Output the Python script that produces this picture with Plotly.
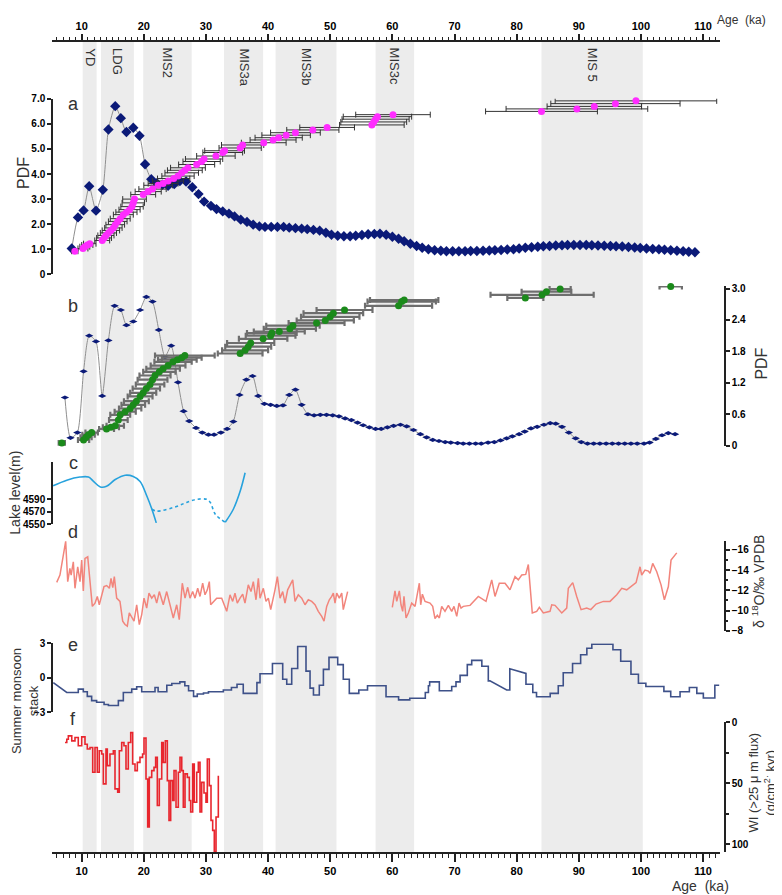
import plotly.graph_objects as go

# ---- shaded climate intervals (ka) ----
BAND_START = [10.16, 13.1, 19.9, 32.9, 41.2, 57.3, 84.0]
BAND_END = [12.4, 18.4, 27.7, 39.2, 51.0, 63.5, 100.3]
BAND_LABEL = ["YD", "LDG", "MIS2", "MIS3a", "MIS3b", "MIS3c", "MIS 5"]

# ---- panel a: PDF (blue) and dated samples (magenta) ----
PDF_A_AGE = [8.4, 9.4, 10.3, 11.2, 12.3, 13.4, 14.3, 15.4, 16.3, 17.2,
             18.3, 19.3, 20.2, 21.2, 22.1, 23.0, 23.9, 24.9, 25.8, 26.8,
             27.8, 28.8, 29.7, 30.8, 31.7, 32.7, 33.7, 34.6, 35.6, 36.6,
             37.6, 38.6, 39.5, 40.5, 41.5, 42.5, 43.4, 44.4, 45.4, 46.3,
             47.3, 48.3, 49.3, 50.2, 51.2, 52.2, 53.2, 54.1, 55.1, 56.1,
             57.1, 58.0, 59.0, 60.0, 61.0, 61.9, 62.9, 63.9, 64.8, 65.8,
             66.8, 67.8, 68.7, 69.7, 70.7, 71.7, 72.6, 73.6, 74.6, 75.6,
             76.5, 77.5, 78.5, 79.5, 80.4, 81.4, 82.4, 83.4, 84.3, 85.3,
             86.3, 87.3, 88.2, 89.2, 90.2, 91.2, 92.1, 93.1, 94.1, 95.1,
             96.0, 97.0, 98.0, 99.0, 99.9, 100.9, 101.9, 102.9, 103.8, 104.8,
             105.8, 106.8, 107.7, 108.7]
PDF_A = [1.03, 2.27, 2.55, 3.51, 2.54, 3.37, 5.78, 6.71, 6.23, 5.68,
         5.85, 5.53, 4.39, 3.79, 3.63, 3.57, 3.53, 3.60, 3.72, 3.70,
         3.47, 3.20, 2.90, 2.73, 2.60, 2.51, 2.42, 2.31, 2.18, 2.09,
         1.98, 1.91, 1.89, 1.89, 1.89, 1.89, 1.86, 1.84, 1.82, 1.80,
         1.77, 1.74, 1.66, 1.58, 1.54, 1.52, 1.52, 1.54, 1.57, 1.60,
         1.61, 1.62, 1.58, 1.50, 1.42, 1.32, 1.22, 1.13, 1.06, 1.00,
         0.96, 0.94, 0.92, 0.92, 0.92, 0.92, 0.93, 0.93, 0.94, 0.95,
         0.96, 0.97, 0.99, 1.00, 1.03, 1.06, 1.08, 1.10, 1.12, 1.13,
         1.15, 1.16, 1.17, 1.17, 1.17, 1.17, 1.16, 1.15, 1.14, 1.13,
         1.12, 1.11, 1.09, 1.07, 1.05, 1.03, 1.01, 1.00, 0.98, 0.96,
         0.94, 0.92, 0.90, 0.88]

MAG_AGE = [8.9, 10.2, 10.5, 10.9, 11.3, 13.3, 13.6, 13.9, 14.3, 14.7,
           15.1, 15.4, 15.8, 16.2, 16.7, 17.2, 17.7, 18.1, 18.3, 18.5,
           19.9, 20.7, 21.4, 22.3, 23.1, 23.9, 24.8, 25.5, 26.1, 26.6,
           27.1, 28.5, 29.3, 29.7, 31.6, 32.7, 33.0, 35.5, 35.9, 39.3,
           40.8, 41.7, 42.9, 44.4, 47.2, 49.5, 56.7, 57.0, 57.3, 57.6,
           60.1, 84.0, 89.7, 92.5, 95.9, 99.2]
MAG_Y = [0.92, 1.03, 1.10, 1.17, 1.22, 1.35, 1.45, 1.55, 1.65, 1.75,
         1.85, 1.98, 2.11, 2.22, 2.38, 2.48, 2.58, 2.70, 2.85, 3.00,
         3.18, 3.30, 3.40, 3.55, 3.62, 3.72, 3.82, 3.92, 4.05, 4.15,
         4.25, 4.38, 4.50, 4.60, 4.72, 4.86, 4.93, 5.04, 5.16, 5.25,
         5.36, 5.45, 5.55, 5.65, 5.76, 5.86, 5.96, 6.08, 6.19, 6.29,
         6.37, 6.50, 6.60, 6.70, 6.81, 6.92]
MAG_ERR = [0.5, 0.8, 0.8, 0.9, 1.0, 1.2, 1.2, 1.3, 1.3, 1.4,
           1.4, 1.5, 1.5, 1.6, 1.6, 1.7, 1.7, 1.8, 1.8, 1.9,
           2.0, 2.1, 2.2, 2.3, 2.4, 2.5, 2.6, 2.6, 2.7, 2.8,
           2.8, 2.9, 3.0, 3.0, 3.1, 3.2, 3.2, 3.4, 3.4, 3.6,
           3.7, 3.8, 3.9, 4.0, 4.2, 4.4, 5.2, 5.3, 5.4, 5.5,
           6.0, 9.0, 11.4, 7.6, 10.4, 13.0]

# ---- panel b: PDF (blue) and dated samples (green) ----
PDF_B_AGE = [7.3, 8.2, 9.3, 10.3, 11.2, 12.3, 13.3, 14.3, 15.3, 16.3,
             17.2, 18.3, 19.4, 20.4, 21.4, 22.4, 23.4, 24.4, 25.5, 26.4,
             27.3, 28.4, 29.4, 30.4, 31.3, 32.4, 33.4, 34.4, 35.4, 36.5,
             37.5, 38.4, 39.4, 40.4, 41.4, 42.4, 43.4, 44.4, 45.4, 46.4,
             47.4, 48.4, 49.4, 50.4, 51.4, 52.4, 53.4, 54.4, 55.3, 56.3,
             57.3, 58.2, 59.2, 60.2, 61.3, 62.3, 63.4, 64.5, 65.5, 66.5,
             67.5, 68.5, 69.4, 70.5, 71.4, 72.4, 73.4, 74.3, 75.4, 76.4,
             77.4, 78.4, 79.3, 80.4, 81.3, 82.3, 83.3, 84.4, 85.4, 86.3,
             87.3, 88.4, 89.5, 90.4, 91.4, 92.4, 93.4, 94.4, 95.4, 96.4,
             97.4, 98.4, 99.4, 100.5, 101.4, 102.4, 103.4, 104.4, 105.5]
PDF_B = [0.92, 0.15, 0.25, 1.42, 2.10, 1.99, 0.95, 2.01, 2.67, 2.59,
         2.30, 2.37, 2.59, 2.84, 2.75, 2.21, 1.69, 1.91, 1.21, 0.66,
         0.47, 0.34, 0.25, 0.21, 0.21, 0.25, 0.32, 0.46, 0.97, 1.26,
         1.33, 0.95, 0.80, 0.78, 0.76, 0.77, 0.97, 1.07, 0.78, 0.60,
         0.58, 0.59, 0.59, 0.58, 0.56, 0.52, 0.49, 0.44, 0.39, 0.35,
         0.32, 0.32, 0.35, 0.38, 0.40, 0.37, 0.30, 0.22, 0.16, 0.11,
         0.09, 0.07, 0.06, 0.05, 0.04, 0.04, 0.04, 0.04, 0.06, 0.07,
         0.10, 0.14, 0.18, 0.22, 0.27, 0.33, 0.36, 0.40, 0.43, 0.42,
         0.36, 0.25, 0.14, 0.07, 0.04, 0.04, 0.04, 0.04, 0.04, 0.04,
         0.04, 0.04, 0.04, 0.04, 0.06, 0.13, 0.20, 0.24, 0.22]

GRN_AGE = [6.8, 10.3, 10.7, 11.1, 11.6, 14.0, 14.7, 15.4, 15.9, 16.2,
           17.0, 17.8, 18.3, 18.8, 19.4, 19.9, 20.4, 21.0, 21.4, 21.8,
           22.5, 23.1, 23.9, 24.7, 25.4, 26.1, 26.6, 35.5, 36.3, 36.8,
           37.2, 39.2, 40.4, 40.6, 41.8, 43.5, 44.0, 47.8, 49.2, 50.0,
           50.5, 52.3, 61.0, 61.5, 61.9, 81.4, 84.1, 84.8, 87.0, 104.8]
GRN_Y = [0.05, 0.11, 0.16, 0.21, 0.25, 0.32, 0.35, 0.38, 0.49, 0.59,
         0.65, 0.71, 0.78, 0.85, 0.94, 1.01, 1.09, 1.17, 1.26, 1.34,
         1.41, 1.47, 1.53, 1.60, 1.64, 1.68, 1.72, 1.76, 1.82, 1.89,
         1.96, 2.04, 2.10, 2.15, 2.18, 2.23, 2.29, 2.34, 2.39, 2.46,
         2.53, 2.59, 2.67, 2.75, 2.78, 2.82, 2.88, 2.94, 2.99, 3.04]
GRN_ERR = [0.5, 0.9, 0.9, 1.0, 1.0, 1.2, 1.3, 1.4, 1.5, 1.6,
           1.7, 1.8, 1.9, 2.0, 2.0, 2.1, 2.2, 2.3, 2.4, 2.5,
           2.6, 2.7, 2.8, 3.0, 3.1, 3.2, 4.8, 3.6, 3.7, 3.7,
           3.8, 3.9, 4.0, 4.0, 4.1, 4.2, 4.3, 4.5, 4.6, 4.7,
           4.8, 4.5, 5.4, 5.5, 5.5, 2.9, 8.3, 4.0, 1.7, 1.8]

# ---- panel c: lake level (m) ----
LAKE1_AGE = [5.4, 7.6, 9.7, 11.1, 11.9, 13.0, 14.0, 15.4, 17.0, 18.3, 19.4, 20.5, 21.3, 22.0]
LAKE1 = [4612, 4621, 4626, 4626, 4619, 4610, 4611, 4622, 4629, 4627, 4619, 4595, 4574, 4552]
LAKE_DASH_AGE = [21.3, 22.1, 24.8, 26.9, 28.5, 30.1, 30.7, 31.5, 33.1]
LAKE_DASH = [4574, 4571, 4577, 4585, 4590, 4590, 4585, 4566, 4553]
LAKE2_AGE = [33.1, 34.4, 35.5, 36.3]
LAKE2 = [4553, 4574, 4603, 4633]

# ---- panel d: speleothem d18O (permil VPDB) ----
D18O_AGE = [5.98, 6.5, 7.42, 7.75, 8.1, 8.3, 8.65, 8.92, 9.36, 9.73,
            10.0, 10.26, 10.53, 10.97, 11.34, 11.71, 12.14, 12.51, 12.83, 13.22,
            13.59, 14.02, 14.45, 14.72, 15.0, 15.25, 15.63, 16.16, 16.6, 16.97,
            17.34, 17.66, 18.05, 18.42, 18.85, 19.27, 19.66, 20.03, 20.46, 20.83,
            21.27, 21.69, 22.07, 22.49, 23.13, 23.68, 24.21, 24.74, 25.29, 25.7,
            26.19, 26.63, 27.06, 27.43, 27.86, 28.24, 28.67, 29.04, 29.47, 29.85,
            30.22, 30.54, 30.76, 31.73, 32.53, 33.34, 33.87, 34.3, 34.67, 35.04,
            35.48, 35.91, 36.28, 36.81, 37.25, 37.62, 38.05, 38.43, 38.7, 39.23,
            39.66, 40.04, 40.42, 40.84, 41.11, 41.49, 41.92, 42.35, 42.72, 43.15,
            43.53, 43.96, 44.33, 44.86, 45.41, 45.94, 46.47, 47.02, 47.55, 48.08,
            48.63, 49.0, 49.43, 49.85, 50.24, 50.5, 50.77, 51.04, 51.46, 51.85,
            52.1, 52.8, None,
            59.99, 60.42, 60.7, 61.12, 61.39, 61.66, 61.87, 62.2, 62.57, 63.11,
            63.65, 64.02, 64.34, 64.56, 64.83, 65.26, 66.06, 66.49, 66.86, 67.24,
            67.56, 67.94, 68.47, 69.01, 69.55, 69.92, 70.36, 70.73, 71.05, 71.42,
            72.5, 73.83, 75.07, 75.99, 76.52, 77.21, 78.13, 78.93, 79.74, 80.27,
            80.82, 81.46, 81.88, 82.15, 82.52, 83.23, 83.65, 84.3, 85.37, 85.65,
            86.18, 87.26, 88.06, 88.32, 89.03, 89.67, 90.37, 91.28, 91.93, 92.78,
            93.96, 95.03, 96.11, 96.92, 97.72, 99.22, 99.86, 100.13, 100.66, 101.2,
            101.47, 101.9, 102.55, 103.24, 103.78, 104.42, 104.85, 105.77]
D18O = [-12.79, -13.5, -16.83, -12.86, -14.16, -13.5, -14.81, -12.2, -14.32, -12.86,
        -14.98, -11.95, -15.14, -15.3, -12.86, -10.42, -10.74, -11.4, -10.58, -11.56,
        -12.37, -12.47, -12.2, -13.18, -12.27, -13.35, -11.23, -10.91, -8.96, -8.63,
        -8.47, -9.77, -9.28, -8.96, -10.58, -8.63, -9.61, -11.23, -10.25, -11.72,
        -11.23, -11.56, -10.74, -11.88, -10.58, -11.88, -10.58, -9.28, -10.58, -9.12,
        -12.7, -11.23, -12.3, -11.23, -11.88, -11.23, -12.2, -11.4, -12.7, -11.56,
        -12.05, -12.86, -10.58, -11.23, -11.23, -9.93, -11.56, -10.91, -11.72, -10.74,
        -11.23, -11.62, -10.74, -12.54, -11.88, -12.86, -11.07, -13.18, -11.23, -12.2,
        -10.91, -11.23, -10.1, -11.23, -12.05, -13.35, -11.23, -11.88, -10.74, -12.05,
        -12.54, -13.03, -10.91, -11.56, -11.23, -10.58, -11.07, -10.91, -10.58, -9.93,
        -9.44, -8.96, -10.42, -11.07, -11.4, -11.72, -10.74, -11.72, -11.23, -11.72,
        -10.1, -11.88, None,
        -10.32, -11.95, -10.91, -11.95, -10.58, -9.93, -11.4, -9.28, -9.77, -10.74,
        -10.42, -11.72, -12.7, -10.58, -11.62, -10.91, -10.74, -10.42, -9.22, -9.54,
        -9.28, -10.42, -9.93, -10.52, -9.93, -10.42, -9.44, -10.74, -10.25, -10.42,
        -10.52, -11.4, -10.91, -13.03, -11.4, -12.7, -12.7, -12.05, -13.35, -13.03,
        -13.51, -13.57, -14.55, -12.54, -9.77, -9.93, -10.32, -9.77, -9.93, -10.58,
        -10.52, -9.77, -10.25, -12.2, -12.76, -11.4, -10.1, -10.25, -10.1, -10.65,
        -10.91, -10.91, -11.56, -12.2, -12.05, -12.76, -14.32, -13.51, -14.0, -13.9,
        -13.67, -14.65, -13.84, -12.54, -11.07, -12.37, -14.98, -15.69]

# ---- panel e: summer monsoon stack (vertices of the stepped curve) ----
SM_AGE = [5.43, 7.59, 9.45, 9.45, 10.26, 10.26, 10.9, 10.9, 11.6, 11.6,
          12.4, 12.4, 13.6, 13.6, 14.3, 14.3, 15.9, 15.9, 16.7, 16.7,
          18.05, 18.05, 18.85, 18.85, 19.66, 19.66, 21.8, 21.8, 22.3, 22.3,
          23.7, 23.7, 24.5, 24.5, 25.8, 25.8, 26.6, 26.6, 27.2, 27.2,
          28.0, 28.0, 28.6, 28.6, 29.6, 29.6, 30.4, 30.4, 32.8, 32.8,
          34.1, 34.1, 35.0, 35.0, 36.0, 36.0, 38.2, 38.2, 38.7, 38.7,
          40.7, 40.7, 42.35, 42.35, 43.0, 43.0, 43.8, 43.8, 44.76, 44.76,
          46.1, 46.1, 46.75, 46.75, 47.3, 47.3, 48.24, 48.24, 48.9, 48.9,
          49.8, 49.8, 51.2, 51.2, 52.1, 52.1, 53.07, 53.07, 54.6, 54.6,
          56.0, 56.0, 58.98, 58.98, 61.0, 61.0, 62.8, 62.8, 65.3, 65.3,
          65.8, 65.8, 66.0, 66.0, 67.56, 67.56, 69.55, 69.55, 70.24, 70.24,
          70.9, 70.9, 72.06, 72.06, 72.77, 72.77, 74.4, 74.4, 75.44, 75.44,
          75.7, 78.4, 78.9, 78.9, 81.5, 81.5, 82.6, 82.6, 83.2, 83.2,
          85.4, 85.4, 86.7, 86.7, 87.5, 87.5, 89.0, 89.0, 90.3, 90.3,
          91.3, 91.3, 92.1, 92.1, 95.5, 95.5, 96.75, 96.75, 98.4, 98.4,
          99.6, 99.6, 100.8, 100.8, 103.7, 103.7, 104.8, 104.8, 106.3, 106.3,
          107.8, 107.8, 109.0, 109.0, 110.05, 110.05, 111.9, 111.9, 112.6]
SM = [-0.43, -1.29, -1.29, -1.0, -1.0, -1.23, -1.23, -1.63, -1.63, -2.0,
      -2.0, -2.14, -2.14, -2.34, -2.34, -2.43, -2.43, -2.0, -2.0, -1.29,
      -1.29, -1.0, -1.0, -0.8, -0.8, -1.23, -1.23, -0.86, -0.86, -1.23,
      -1.23, -0.66, -0.66, -0.51, -0.51, -0.37, -0.37, -0.71, -0.71, -1.14,
      -1.14, -1.63, -1.63, -1.43, -1.43, -1.34, -1.34, -1.23, -1.23, -1.08,
      -1.08, -0.86, -0.86, -0.57, -0.57, -1.37, -1.37, -0.43, -0.43, 0.34,
      0.34, 1.23, 1.23, -0.14, -0.14, -0.57, -0.57, 0.8, 0.8, 2.72,
      2.72, 0.57, 0.57, -0.91, -0.91, -1.51, -1.51, -0.66, -0.66, 0.72,
      0.72, 1.77, 1.77, 1.14, 1.14, -0.14, -0.14, -1.37, -1.37, -1.08,
      -1.08, -0.71, -0.71, -1.66, -1.66, -1.94, -1.94, -1.8, -1.8, -1.29,
      -1.29, -0.71, -0.71, -0.37, -0.37, -1.14, -1.14, -0.77, -0.77, -0.37,
      -0.37, 0.2, 0.2, 1.14, 1.14, 1.51, 1.51, 1.0, 1.0, -0.28,
      -0.28, -1.08, -1.08, 0.77, 0.37, -0.57, -0.57, -1.29, -1.29, -1.66,
      -1.66, -1.37, -1.37, -0.71, -0.71, 0.43, 0.43, 1.23, 1.23, 2.0,
      2.0, 2.57, 2.57, 2.91, 2.91, 2.43, 2.43, 1.43, 1.43, 0.29,
      0.29, -0.49, -0.49, -0.77, -0.77, -1.2, -1.2, -1.66, -1.66, -1.23,
      -1.23, -0.86, -0.86, -1.37, -1.37, -1.77, -1.77, -0.66, -0.66]

# ---- panel f: WI flux (step series) ----
WI_AGE = [7.31, 7.6, 7.85, 8.4, 8.92, 9.45, 10.0, 10.53, 10.9, 11.34,
          11.77, 12.14, 12.51, 12.83, 13.22, 13.48, 13.91, 14.12, 14.55, 15.09,
          15.36, 15.79, 16.05, 16.44, 16.8, 17.13, 17.5, 17.89, 18.2, 18.58,
          18.95, 19.38, 19.8, 20.03, 20.35, 20.62, 20.88, 21.27, 21.64, 21.9,
          22.17, 22.49, 22.88, 23.13, 23.46, 23.78, 24.05, 24.32, 24.65, 24.86,
          25.18, 25.55, 25.82, 26.1, 26.35, 26.63, 27.0, 27.32, 27.54, 27.86,
          28.12, 28.51, 28.77, 29.04, 29.31, 29.68, 30.0, 30.22, 30.54, 30.81,
          31.08, 31.34, 31.62, 31.99]
WI = [16.6, 13.9, 11.2, 15.3, 12.5, 19.3, 12.0, 18.0, 22.0, 20.7,
      41.0, 20.7, 41.0, 23.4, 26.1, 50.6, 22.0, 35.6, 26.1, 23.4,
      54.7, 57.4, 23.4, 16.6, 19.3, 38.4, 16.6, 8.5, 34.3, 39.7,
      32.9, 28.8, 26.1, 13.0, 46.6, 86.0, 45.2, 39.7, 37.0, 28.8,
      68.3, 46.6, 16.6, 32.9, 15.3, 47.9, 80.5, 47.9, 64.2, 39.7,
      69.7, 41.0, 28.8, 39.7, 69.7, 42.4, 45.2, 64.2, 73.7, 34.3,
      65.6, 41.0, 32.9, 73.7, 49.3, 58.0, 65.6, 30.2, 52.0, 80.5,
      88.7, 106.3, 77.8, 43.8]

FONT = "Liberation Sans, Arial, sans-serif"
# the page adds an 8 px body margin, so the figure is 8 px smaller than the window
OFF = 8
W, H = 782 - OFF, 895 - OFF
# plot box in window pixels
LEFT, RIGHT, TOP, BOTTOM = 52, 725, 35, 853
ML, MR, MT, MB = LEFT - OFF, W - (RIGHT - OFF), TOP - OFF, H - (BOTTOM - OFF)


def px_x(px):
    return (px - LEFT) / (RIGHT - LEFT)


def px_y(py):
    return (BOTTOM - py) / (BOTTOM - TOP)


fig = go.Figure()

# panel a
fig.add_trace(go.Scatter(x=PDF_A_AGE, y=PDF_A, xaxis="x2", yaxis="y", mode="lines+markers",
                         line=dict(color="#8f8f8f", width=1, shape="spline", smoothing=0.6),
                         marker=dict(symbol="diamond", size=8, color="#0b1a78"),
                         cliponaxis=False))
fig.add_trace(go.Scatter(x=MAG_AGE, y=MAG_Y, xaxis="x2", yaxis="y", mode="markers",
                         marker=dict(size=7, color="#ff2cff"),
                         error_x=dict(type="data", array=MAG_ERR, color="#333333", thickness=1, width=3),
                         cliponaxis=False))
# panel b
fig.add_trace(go.Scatter(x=PDF_B_AGE, y=PDF_B, yaxis="y2", mode="lines+markers",
                         line=dict(color="#8f8f8f", width=1, shape="spline", smoothing=0.6),
                         marker=dict(symbol="diamond-wide", size=6, color="#0b1a78"),
                         cliponaxis=False))
fig.add_trace(go.Scatter(x=GRN_AGE, y=GRN_Y, yaxis="y2", mode="markers",
                         marker=dict(size=7, color="#1b8a1b"),
                         error_x=dict(type="data", array=GRN_ERR, color="#6e6e6e", thickness=2.2, width=3),
                         cliponaxis=False))
# panel c
for ages, vals, dash in [(LAKE1_AGE, LAKE1, "solid"), (LAKE_DASH_AGE, LAKE_DASH, "dot"),
                         (LAKE2_AGE, LAKE2, "solid")]:
    fig.add_trace(go.Scatter(x=ages, y=vals, yaxis="y3", mode="lines",
                             line=dict(color="#27a2dd", width=1.6, shape="spline", dash=dash)))
# panel d
fig.add_trace(go.Scatter(x=D18O_AGE, y=D18O, yaxis="y4", mode="lines",
                         line=dict(color="#f2857c", width=1.5)))
# panel e
fig.add_trace(go.Scatter(x=SM_AGE, y=SM, yaxis="y5", mode="lines",
                         line=dict(color="#3e5189", width=1.6)))
# panel f
fig.add_trace(go.Scatter(x=WI_AGE, y=WI, yaxis="y6", mode="lines",
                         line=dict(color="#e8262e", width=1.6, shape="hv")))

# shaded intervals and labels
for x0, x1, lab in zip(BAND_START, BAND_END, BAND_LABEL):
    fig.add_shape(type="rect", xref="x", yref="paper", x0=x0, x1=x1, y0=0, y1=1,
                  fillcolor="#ececec", line=dict(width=0), layer="below")
    fig.add_annotation(x=(x0 + x1) / 2, y=px_y(40), xref="x", yref="paper", text=lab,
                       textangle=90, showarrow=False, xanchor="center", yanchor="top",
                       font=dict(family=FONT, size=13, color="#333333"))

tick_font = dict(family=FONT, size=10, color="black", weight="bold")
common_x = dict(range=[5.22, 112.73], domain=[0, px_x(720)], showgrid=False, zeroline=False,
                showline=True, linecolor="#222222", linewidth=1.5, ticks="outside",
                tickwidth=1.5, tickcolor="#222222", dtick=10, tick0=0,
                tickfont=dict(family=FONT, size=11, color="black", weight="bold"))
common_y = dict(showgrid=False, zeroline=False, showline=True, linecolor="#222222", linewidth=1.5,
                ticks="outside", ticklen=4, tickwidth=1.5, tickcolor="#222222", tickfont=tick_font)

PDF_A_TICKS = [0, 1, 2, 3, 4, 5, 6, 7]
PDF_B_TICKS = [0, 0.6, 1.2, 1.8, 2.4, 3.0]

fig.update_layout(
    width=W, height=H, margin=dict(l=ML, r=MR, t=MT, b=MB),
    paper_bgcolor="white", plot_bgcolor="white", showlegend=False,
    xaxis=dict(**common_x, anchor="free", position=0, side="bottom", ticklen=8,
               minor=dict(dtick=1, tick0=0, ticks="outside", ticklen=4, tickwidth=1, tickcolor="#222222")),
    xaxis2=dict(**common_x, anchor="free", position=1, side="top", overlaying="x", matches="x",
                ticklen=6,
                minor=dict(dtick=1, tick0=0, ticks="outside", ticklen=3, tickwidth=1, tickcolor="#222222")),
    yaxis=dict(**common_y, domain=[px_y(270), px_y(93.3)], range=[0, 7], anchor="free", position=0,
               side="left", tickvals=PDF_A_TICKS,
               ticktext=["0" if v == 0 else f"{v:.1f}" for v in PDF_A_TICKS]),
    yaxis2=dict(**common_y, domain=[px_y(442.7), px_y(281.7)], range=[0, 3.05], anchor="free",
                position=1, side="right", tickvals=PDF_B_TICKS,
                ticktext=["0" if v == 0 else f"{v:.1f}" for v in PDF_B_TICKS]),
    yaxis3=dict(**common_y, domain=[px_y(521.7), px_y(459.3)], range=[4550, 4650], anchor="free",
                position=0, side="left", tickvals=[4550, 4570, 4590]),
    yaxis4=dict(**common_y, domain=[px_y(629.3), px_y(538.3)], range=[-8, -16.9], anchor="free",
                position=1, side="right", tickvals=[-16, -14, -12, -10, -8],
                minor=dict(tickvals=[-15, -13, -11, -9], ticks="outside", ticklen=2, tickcolor="#222222")),
    yaxis5=dict(**common_y, domain=[px_y(711), px_y(641.7)], range=[-3, 3], anchor="free",
                position=0, side="left", tickvals=[-3, 0, 3]),
    yaxis6=dict(**common_y, domain=[px_y(852), px_y(721.3)], range=[106.5, 0], anchor="free",
                position=1, side="right", tickvals=[0, 50, 100],
                minor=dict(tickvals=[25, 75], ticks="outside", ticklen=3, tickcolor="#222222")),
)


def note(text, px, py, size=15, angle=0, color="#333333"):
    fig.add_annotation(x=px_x(px), y=px_y(py), xref="paper", yref="paper", text=text,
                       showarrow=False, textangle=angle, xanchor="center", yanchor="middle",
                       font=dict(family=FONT, size=size, color=color))


# panel letters
for letter, py in zip("abcdef", [98, 302, 460, 530, 643, 718]):
    note(letter, 73, py, size=18)

# axis titles
note("PDF", 23, 168, size=16, angle=-90)
note("PDF", 762, 360, size=16, angle=-90)
note("Lake level(m)", 15, 490, size=14, angle=-90)
note("δ <sup>18</sup>O/‰ VPDB", 758, 580, size=14, angle=-90)
note("Summer monsoon<br>stack", 25, 700, size=13, angle=-90)
note("WI (>25 μ m flux)<br>(g/cm<sup>2·</sup> kyr)", 762, 782, size=13, angle=-90)
note("Age  (ka)", 742, 14, size=12)
note("Age  (ka)", 700, 886, size=14)

fig.write_html("out.html")
